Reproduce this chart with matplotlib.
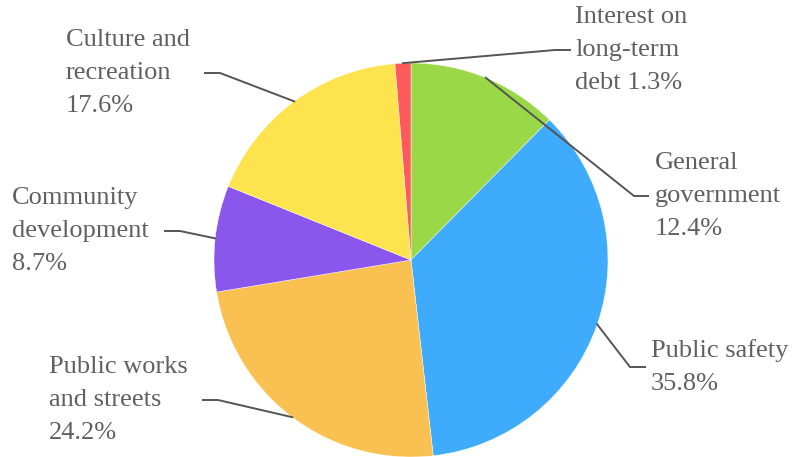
import numpy as np
import matplotlib
matplotlib.use("Agg")
import matplotlib.pyplot as plt

# Expenditure shares by function (percent)
categories = ["General\ngovernment", "Public safety", "Public works\nand streets",
              "Community\ndevelopment", "Culture and\nrecreation", "Interest on\nlong-term\ndebt"]
values = [12.4, 35.8, 24.2, 8.7, 17.6, 1.3]
colors = ["#9bd848", "#3eabfd", "#f9c152", "#8a56ec", "#fde34e", "#fd5b5b"]

W, H = 792, 457
fig = plt.figure(figsize=(W / 100, H / 100), dpi=100)
ax = fig.add_axes([0, 0, 1, 1])

cx, cy, r = 411, H - 260, 197
wedges, _ = ax.pie(values, colors=colors, startangle=90, counterclock=False,
                   radius=r, center=(cx, cy), frame=True,
                   wedgeprops=dict(linewidth=0.3, edgecolor="white"))
ax.set_xlim(0, W)
ax.set_ylim(0, H)
ax.set_aspect("equal")
ax.axis("off")

# leader-line knee, end point and text anchor for each label (pixel layout)
knees = [(634, 196), (630, 367), (218, 400), (180, 231), (220, 73), (555, 50)]
ends = [(648, 196), (645, 367), (203, 400), (165, 231), (205, 73), (570, 50)]
text_x = [655, 651, 188, 149, 190, 575]

font = ["Liberation Serif", "DejaVu Serif"]
line_col = "#555555"
text_col = "#606060"

total = sum(values)
cum = 0.0
for i, (cat, v) in enumerate(zip(categories, values)):
    mid = (cum + v / 2) / total * 360.0
    cum += v
    theta = np.deg2rad(90 - mid)
    ex, ey = cx + r * np.cos(theta), cy + r * np.sin(theta)
    kx, ky = knees[i][0], H - knees[i][1]
    fx, fy = ends[i][0], H - ends[i][1]
    ax.plot([ex, kx, fx], [ey, ky, fy], color=line_col, lw=1.4,
            solid_joinstyle="miter", zorder=5)
    right = fx > cx
    label = f"{cat}\n{v:.1f}%" if i != 5 else f"{cat} {v:.1f}%"
    ax.text(text_x[i], fy, label, ha="left" if right else "right",
            va="center", multialignment="left", fontsize=19,
            family=font, color=text_col, linespacing=1.62, zorder=6)

fig.savefig("out.png", dpi=100)
